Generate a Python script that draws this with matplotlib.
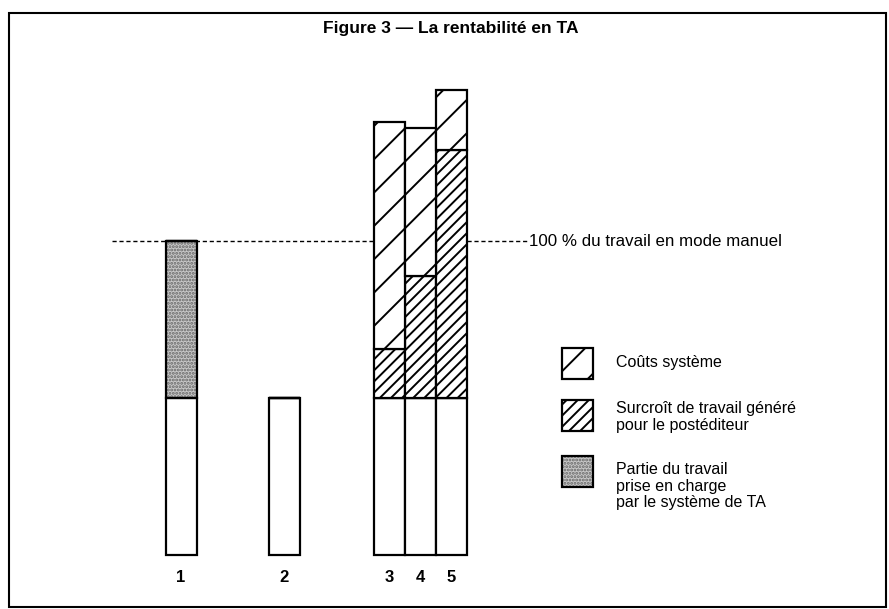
import matplotlib
matplotlib.use("Agg")
from matplotlib import pyplot as plt
from matplotlib.patches import Rectangle

plt.rcParams['font.family'] = ['Liberation Sans', 'DejaVu Sans']
plt.rcParams['hatch.linewidth'] = 1.4

# data (1 unit = work left to the human after MT)
labels = ['1', '2', '3', '4', '5']
base = [1.0, 1.0, 1.0, 1.0, 1.0]            # travail restant (blanc)
partie = [1.0, 0.0, 0.0, 0.0, 0.0]          # pris en charge par le systeme
surcroit = [0.0, 0.0, 0.31, 0.78, 1.58]     # surcroit pour le postediteur
couts = [0.0, 0.0, 1.45, 0.94, 0.38]        # couts systeme
manuel = 2.0                                # 100 % du travail en mode manuel

W, H = 889, 609
fig = plt.figure(figsize=(W / 100, H / 100), dpi=100)
ax = fig.add_axes([0, 0, 1, 1])
ax.set_xlim(0, W)
ax.set_ylim(-(H - 555) / 157, 555 / 157)
ax.axis('off')

bar_x = [181, 284, 389.5, 420, 451]
bar_w = 31
stipple = dict(facecolor='#c8c8c8', hatch='.....', edgecolor='#666666', lw=0)

def fpx(x, y):
    return x / W, 1 - y / H

# bars
ax.bar(bar_x, base, width=bar_w, facecolor='white', edgecolor='black', lw=1.6, zorder=3)
ax.bar(bar_x, partie, bottom=base, width=bar_w, zorder=2, **stipple)
ax.bar(bar_x, partie, bottom=base, width=bar_w, fill=False, edgecolor='black', lw=1.6, zorder=3)
bot2 = [b + p for b, p in zip(base, partie)]
ax.bar(bar_x, surcroit, bottom=bot2, width=bar_w, facecolor='white', hatch='///',
       edgecolor='black', lw=1.6, zorder=3)
bot3 = [b + s for b, s in zip(bot2, surcroit)]
ax.bar(bar_x, couts, bottom=bot3, width=bar_w, facecolor='white', hatch='/',
       edgecolor='black', lw=1.6, zorder=3)

# 100 % line
ax.plot([112, 374], [manuel, manuel], color='black', lw=1, ls=(0, (3, 2)), zorder=1)
ax.plot([467, 527], [manuel, manuel], color='black', lw=1, ls=(0, (3, 2)), zorder=1)
ax.text(529, manuel, '100 % du travail en mode manuel', fontsize=12.2, va='center', ha='left')

for x, lab in zip(bar_x, labels):
    ax.text(x, -0.145, lab, fontsize=12, fontweight='bold', ha='center', va='center')

# title
fig.text(*fpx(451, 28), 'Figure 3 — La rentabilité en TA', fontsize=12.5,
         fontweight='bold', ha='center', va='center')

# legend
leg = [
    (348, dict(facecolor='white', hatch='/'), 363, 'Coûts système'),
    (400, dict(facecolor='white', hatch='///'), 417, 'Surcroît de travail généré\npour le postéditeur'),
    (456, None, 486, 'Partie du travail\nprise en charge\npar le système de TA'),
]
for top, style, ty, txt in leg:
    x0, y0 = fpx(562, top + 31)
    if style is None:
        fig.add_artist(Rectangle((x0, y0), 31 / W, 31 / H, transform=fig.transFigure, **stipple))
        fig.add_artist(Rectangle((x0, y0), 31 / W, 31 / H, transform=fig.transFigure,
                                 fill=False, edgecolor='black', lw=1.6))
    else:
        fig.add_artist(Rectangle((x0, y0), 31 / W, 31 / H, transform=fig.transFigure,
                                 edgecolor='black', lw=1.6, **style))
    fig.text(*fpx(616, ty), txt, fontsize=11.5, va='center', ha='left', linespacing=1.1)

# frame
fig.add_artist(Rectangle(fpx(9, 607), 877 / W, 594 / H, transform=fig.transFigure,
                         fill=False, edgecolor='black', lw=1.5))

fig.savefig('out.png', dpi=100)
